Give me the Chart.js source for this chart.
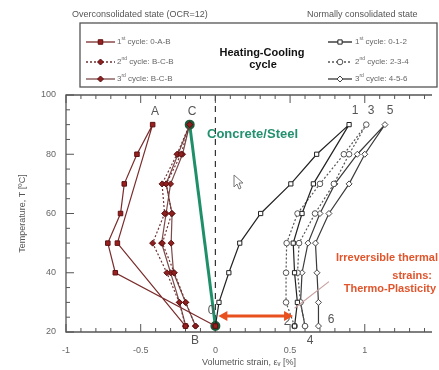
<!DOCTYPE html>
<html>
<head>
<meta charset="utf-8">
<script src="https://cdn.jsdelivr.net/npm/chart.js@4.4.1/dist/chart.umd.min.js"></script>
<style>
  html, body { margin: 0; padding: 0; background: #fff; }
  canvas { display: block; }
</style>
</head>
<body>
<canvas id="chart" width="439" height="370"></canvas>
<script>
// tick labels
const xTicks = [-1, -0.5, 0, 0.5, 1];
const yTicks = [20, 40, 60, 80, 100];

// Overconsolidated state (OCR=12)
const oc1Strain = [0, -0.67, -0.72, -0.635, -0.61, -0.525, -0.42, -0.656, -0.2];
const oc1Temp   = [22, 40, 50, 60, 70, 80, 90, 50, 22];
const oc2Strain = [-0.2, -0.242, -0.325, -0.42, -0.34, -0.357, -0.257, -0.172, -0.23, -0.329, -0.292, -0.355, -0.275, -0.198, -0.133];
const oc2Temp   = [22, 30, 40, 50, 60, 70, 80, 90, 80, 70, 60, 50, 40, 30, 22];
const oc3Strain = [-0.133, -0.2, -0.28, -0.296, -0.29, -0.33, -0.25, -0.172, -0.22, -0.3, -0.33, -0.36, -0.3, -0.24, -0.198];
const oc3Temp   = [22, 30, 40, 50, 60, 70, 80, 90, 80, 70, 60, 50, 40, 30, 22];

// Concrete/Steel
const steelStrain = [0, -0.172];
const steelTemp   = [22, 90];

// Normally consolidated state
const nc1Strain = [0, 0.024, 0.09, 0.163, 0.303, 0.505, 0.678, 0.895, 0.656, 0.58, 0.521, 0.53, 0.549, 0.53];
const nc1Temp   = [22, 30, 40, 50, 60, 70, 80, 90, 70, 60, 50, 40, 30, 22];
const nc2Strain = [0.53, 0.473, 0.473, 0.477, 0.55, 0.7, 0.86, 1.01, 0.895, 0.793, 0.667, 0.56, 0.55, 0.57, 0.6];
const nc2Temp   = [22, 30, 40, 50, 60, 70, 80, 90, 80, 70, 60, 50, 40, 30, 22];
const nc3Strain = [0.6, 0.57, 0.58, 0.62, 0.7, 0.8, 0.95, 1.135, 1.0, 0.895, 0.76, 0.67, 0.68, 0.69, 0.69];
const nc3Temp   = [22, 30, 40, 50, 60, 70, 80, 90, 80, 70, 60, 50, 40, 30, 22];

const ocLabels = [['1', 'st', ' cycle: 0-A-B'], ['2', 'nd', ' cycle: B-C-B'], ['3', 'rd', ' cycle: B-C-B']];
const ncLabels = [['1', 'st', ' cycle: 0-1-2'], ['2', 'nd', ' cycle: 2-3-4'], ['3', 'rd', ' cycle: 4-5-6']];

const FONT = '"Liberation Sans", Arial, sans-serif';
const pts = (xs, ys) => xs.map((x, i) => ({ x: x, y: ys[i] }));

const styles = {
  oc1: { line: '#7a2c2c', fill: '#9c1f1f', border: '#5c1212', style: 'rect', r: 3.2, dash: [] },
  oc2: { line: '#6e3434', fill: '#8e2020', border: '#5c1212', style: 'rectRot', r: 3, dash: [2, 2] },
  oc3: { line: '#7c4a4a', fill: '#8e2020', border: '#5c1212', style: 'rectRot', r: 3, dash: [] },
  nc1: { line: '#222', fill: '#fff', border: '#222', style: 'rect', r: 3, dash: [] },
  nc2: { line: '#555', fill: '#fff', border: '#555', style: 'circle', r: 2.8, dash: [2, 2] },
  nc3: { line: '#3a3a3a', fill: '#fff', border: '#444', style: 'rectRot', r: 3, dash: [] }
};

function ds(data, s) {
  return {
    data: data, showLine: true, borderColor: s.line, borderWidth: 1.2, borderDash: s.dash,
    pointStyle: s.style, pointRadius: s.r, pointBackgroundColor: s.fill,
    pointBorderColor: s.border, pointBorderWidth: 1
  };
}

const decor = {
  id: 'decor',
  beforeDatasetsDraw(chart) {
    const ctx = chart.ctx, a = chart.chartArea;
    const X = chart.scales.x, Y = chart.scales.y;
    ctx.save();
    // dashed zero line
    ctx.strokeStyle = '#333'; ctx.lineWidth = 1.2; ctx.setLineDash([6, 5]);
    ctx.beginPath(); ctx.moveTo(X.getPixelForValue(0), a.top); ctx.lineTo(X.getPixelForValue(0), a.bottom); ctx.stroke();
    ctx.setLineDash([]);
    // frame
    ctx.strokeStyle = '#555'; ctx.lineWidth = 1.3;
    ctx.beginPath();
    ctx.moveTo(a.right, a.top); ctx.lineTo(a.left, a.top); ctx.lineTo(a.left, a.bottom); ctx.lineTo(a.right, a.bottom);
    ctx.stroke();
    // inward ticks
    ctx.lineWidth = 1;
    ctx.beginPath();
    for (let i = -10; i <= 14; i++) {
      const v = i / 10, px = X.getPixelForValue(v), len = i % 5 === 0 ? 8 : 4;
      ctx.moveTo(px, a.bottom); ctx.lineTo(px, a.bottom - len);
      ctx.moveTo(px, a.top); ctx.lineTo(px, a.top + len);
    }
    for (let t = 20; t <= 100; t += 5) {
      const py = Y.getPixelForValue(t), len = t % 20 === 0 ? 8 : 4;
      ctx.moveTo(a.left, py); ctx.lineTo(a.left + len, py);
    }
    ctx.stroke();
    ctx.restore();
  },
  afterDraw(chart) {
    const ctx = chart.ctx;
    const X = chart.scales.x, Y = chart.scales.y;
    const px = v => X.getPixelForValue(v), py = v => Y.getPixelForValue(v);
    ctx.save();
    ctx.textAlign = 'center'; ctx.textBaseline = 'middle';

    // point labels
    ctx.fillStyle = '#555'; ctx.font = '12px ' + FONT;
    [['A', 155, 112], ['C', 192, 112], ['1', 355, 111], ['3', 371, 111], ['5', 390, 111],
     ['B', 195, 341], ['0', 211, 311], ['2', 287, 322], ['4', 310, 341], ['6', 331, 320]]
      .forEach(([t, x, y]) => ctx.fillText(t, x, y));

    // Concrete/Steel
    ctx.fillStyle = '#23906f'; ctx.font = 'bold 13px ' + FONT;
    ctx.textAlign = 'left';
    ctx.fillText('Concrete/Steel', 207, 134);

    // mouse pointer
    ctx.strokeStyle = '#777'; ctx.lineWidth = 1; ctx.fillStyle = '#fff';
    ctx.beginPath();
    const cx = 234, cy = 175;
    [[0, 0], [0, 12], [3, 9], [5, 14], [7, 13], [5, 8], [9, 8]].forEach(([dx, dy], i) => i ? ctx.lineTo(cx + dx, cy + dy) : ctx.moveTo(cx + dx, cy + dy));
    ctx.closePath(); ctx.fill(); ctx.stroke();

    // leader line
    ctx.strokeStyle = '#c9a0a0'; ctx.lineWidth = 1.2;
    ctx.beginPath(); ctx.moveTo(px(0.53), py(28)); ctx.lineTo(px(0.76), py(37)); ctx.stroke();

    // irreversible strain arrow
    const ay = py(25.4), x0 = px(0.02), x1 = px(0.52);
    ctx.strokeStyle = '#e8501e'; ctx.fillStyle = '#e8501e'; ctx.lineWidth = 3;
    ctx.beginPath(); ctx.moveTo(x0 + 6, ay); ctx.lineTo(x1 - 6, ay); ctx.stroke();
    ctx.beginPath(); ctx.moveTo(x0, ay); ctx.lineTo(x0 + 9, ay - 5); ctx.lineTo(x0 + 9, ay + 5); ctx.closePath(); ctx.fill();
    ctx.beginPath(); ctx.moveTo(x1, ay); ctx.lineTo(x1 - 9, ay - 5); ctx.lineTo(x1 - 9, ay + 5); ctx.closePath(); ctx.fill();

    // thermo-plasticity text
    ctx.fillStyle = '#e0552c'; ctx.font = 'bold 11px ' + FONT; ctx.textAlign = 'right';
    ctx.fillText('Irreversible thermal', 438, 258);
    ctx.fillText('strains:', 432, 276);
    ctx.fillText('Thermo-Plasticity', 436, 289);

    // headers
    ctx.fillStyle = '#555'; ctx.font = '9px ' + FONT; ctx.textAlign = 'left';
    ctx.fillText('Overconsolidated state (OCR=12)', 72, 15);
    ctx.fillText('Normally consolidated state', 307, 15);

    // legend box
    ctx.fillStyle = '#fff'; ctx.fillRect(80, 23, 357, 64);
    ctx.strokeStyle = '#555'; ctx.lineWidth = 1.3; ctx.strokeRect(80, 23, 357, 64);
    ctx.fillStyle = '#111'; ctx.font = 'bold 11px ' + FONT; ctx.textAlign = 'center';
    ctx.fillText('Heating-Cooling', 262, 53);
    ctx.fillText('cycle', 263, 65);

    const rows = [42, 62, 79];
    const entry = (s, lab, lx0, lx1, tx, y) => {
      ctx.strokeStyle = s.line; ctx.lineWidth = 1.3; ctx.setLineDash(s.dash);
      ctx.beginPath(); ctx.moveTo(lx0, y); ctx.lineTo(lx1, y); ctx.stroke();
      ctx.setLineDash([]);
      ctx.fillStyle = s.fill; ctx.strokeStyle = s.border; ctx.lineWidth = 1;
      Chart.helpers.drawPoint(ctx, { pointStyle: s.style, radius: s.r, rotation: 0, borderWidth: 1 }, (lx0 + lx1) / 2, y);
      ctx.fillStyle = '#666'; ctx.textAlign = 'left';
      let x = tx;
      ctx.font = '8px ' + FONT; ctx.fillText(lab[0], x, y); x += ctx.measureText(lab[0]).width;
      ctx.font = '5px ' + FONT; ctx.fillText(lab[1], x, y - 3); x += ctx.measureText(lab[1]).width;
      ctx.font = '8px ' + FONT; ctx.fillText(lab[2], x, y);
    };
    ['oc1', 'oc2', 'oc3'].forEach((k, i) => entry(styles[k], ocLabels[i], 86, 115, 117, rows[i]));
    ['nc1', 'nc2', 'nc3'].forEach((k, i) => entry(styles[k], ncLabels[i], 328, 352, 355, rows[i]));
    ctx.restore();
  }
};

new Chart(document.getElementById('chart'), {
  type: 'scatter',
  data: {
    datasets: [
      ds(pts(oc1Strain, oc1Temp), styles.oc1),
      ds(pts(oc2Strain, oc2Temp), styles.oc2),
      ds(pts(oc3Strain, oc3Temp), styles.oc3),
      ds(pts(nc1Strain, nc1Temp), styles.nc1),
      ds(pts(nc2Strain, nc2Temp), styles.nc2),
      ds(pts(nc3Strain, nc3Temp), styles.nc3),
      {
        data: pts(steelStrain, steelTemp), showLine: true, borderColor: '#1f8f6a', borderWidth: 3,
        pointRadius: 3.5, pointBackgroundColor: '#1d5a3a', pointBorderColor: '#1d5a3a'
      }
    ]
  },
  options: {
    responsive: false,
    animation: false,
    layout: { padding: { top: 95, right: 0, left: 0, bottom: 0 } },
    plugins: { legend: { display: false }, tooltip: { enabled: false } },
    scales: {
      x: {
        type: 'linear', min: -1, max: 1.45,
        afterBuildTicks: s => { s.ticks = xTicks.map(v => ({ value: v })); },
        afterFit: s => { s.height = 38; },
        grid: { display: false, drawTicks: false }, border: { display: false },
        ticks: { color: '#666', font: { size: 9, family: FONT }, padding: 13, maxRotation: 0,
                 callback: v => String(v) },
        title: { display: true, text: 'Volumetric strain, \u03b5\u1d65 [%]', color: '#555',
                 font: { size: 9, family: FONT }, padding: { top: 0, bottom: 2 } }
      },
      y: {
        type: 'linear', min: 20, max: 100,
        afterBuildTicks: s => { s.ticks = yTicks.map(v => ({ value: v })); },
        afterFit: s => { s.width = 66; },
        grid: { display: false, drawTicks: false }, border: { display: false },
        ticks: { color: '#666', font: { size: 9, family: FONT }, padding: 10 },
        title: { display: true, text: 'Temperature, T [\u00baC]', color: '#555',
                 font: { size: 9, family: FONT }, padding: { top: 17, bottom: 0 } }
      }
    }
  },
  plugins: [decor]
});
</script>
</body>
</html>
